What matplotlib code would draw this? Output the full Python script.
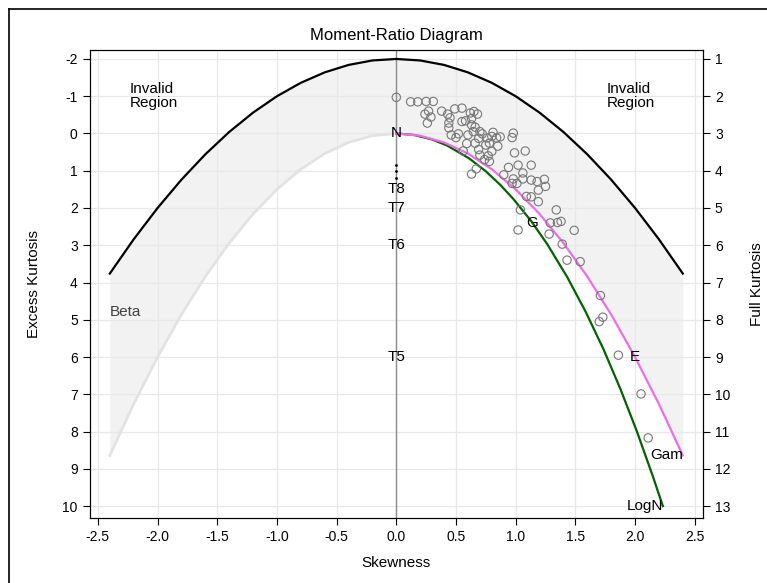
import matplotlib
matplotlib.use("Agg")
import matplotlib.pyplot as plt
from matplotlib.lines import Line2D

plt.rcParams["font.family"] = ["Liberation Sans", "DejaVu Sans"]
plt.rcParams["axes.unicode_minus"] = False

# boundary of feasible region (excess kurtosis = skew^2 - 2) and beta/gamma line
skew_grid = [-2.4, -2.2, -2.0, -1.8, -1.6, -1.4, -1.2, -1.0, -0.8, -0.6, -0.4, -0.2, 0.0,
             0.2, 0.4, 0.6, 0.8, 1.0, 1.2, 1.4, 1.6, 1.8, 2.0, 2.2, 2.4]
min_kurt = [3.76, 2.84, 2.0, 1.24, 0.56, -0.04, -0.56, -1.0, -1.36, -1.64, -1.84, -1.96, -2.0,
            -1.96, -1.84, -1.64, -1.36, -1.0, -0.56, -0.04, 0.56, 1.24, 2.0, 2.84, 3.76]
gamma_kurt = [8.64, 7.26, 6.0, 4.86, 3.84, 2.94, 2.16, 1.5, 0.96, 0.54, 0.24, 0.06, 0.0,
              0.06, 0.24, 0.54, 0.96, 1.5, 2.16, 2.94, 3.84, 4.86, 6.0, 7.26, 8.64]

# lognormal curve
logn_skew = [0.0, 0.150, 0.301, 0.427, 0.608, 0.750, 0.871, 0.980, 1.129, 1.264,
             1.431, 1.587, 1.736, 1.878, 2.016, 2.150, 2.216, 2.233]
logn_kurt = [0.0, 0.040, 0.162, 0.326, 0.664, 1.015, 1.379, 1.756, 2.347, 2.969,
             3.850, 4.790, 5.794, 6.863, 8.001, 9.210, 9.842, 10.0]

# t distributions on the skewness = 0 axis
t_labels = ["T5", "T6", "T7", "T8"]
t_kurt = [6.0, 3.0, 2.0, 1.5]
t_dots = [1.2, 1.0, 0.857]

# observed samples
obs_skew = [0.00, 0.12, 0.18, 0.25, 0.31, 0.27, 0.24, 0.29, 0.26, 0.38,
            0.43, 0.45, 0.44, 0.44, 0.49, 0.55, 0.55, 0.46, 0.50, 0.52,
            0.62, 0.65, 0.68, 0.63, 0.58, 0.63, 0.66, 0.645, 0.70, 0.72,
            0.69, 0.60, 0.66, 0.59, 0.56, 0.69, 0.70, 0.76, 0.80, 0.81,
            0.78, 0.84, 0.87, 0.85, 0.80, 0.77, 0.78, 0.74, 0.97, 0.98,
            0.99, 1.08, 0.67, 0.63, 0.94, 1.02, 1.13, 1.06, 0.98, 1.06,
            1.13, 1.18, 0.90, 0.97, 1.01, 1.25, 1.24, 1.19, 1.09, 1.13,
            1.19, 1.04, 1.02, 1.34, 1.29, 1.35, 1.38, 1.28, 1.39, 1.49,
            1.43, 1.54, 1.71, 1.73, 1.70, 1.86, 2.05, 2.11, 0.75]
obs_kurt = [-0.97, -0.85, -0.85, -0.86, -0.86, -0.60, -0.52, -0.44, -0.28, -0.60,
            -0.52, -0.42, -0.28, -0.15, -0.66, -0.68, -0.32, 0.04, 0.11, 0.01,
            -0.55, -0.59, -0.52, -0.40, -0.34, -0.23, -0.17, -0.05, -0.05, 0.01,
            0.13, 0.04, 0.26, 0.27, 0.47, 0.43, 0.58, 0.12, 0.08, -0.03,
            0.26, 0.12, 0.09, 0.34, 0.48, 0.60, 0.75, 0.70, 0.11, -0.01,
            0.52, 0.47, 0.95, 1.09, 0.91, 0.85, 0.85, 1.06, 1.22, 1.22,
            1.25, 1.29, 1.11, 1.34, 1.34, 1.42, 1.23, 1.52, 1.69, 1.70,
            1.83, 2.05, 2.59, 2.05, 2.40, 2.39, 2.36, 2.70, 2.97, 2.60,
            3.40, 3.44, 4.35, 4.93, 5.05, 5.95, 6.99, 8.17, 0.31]

x_ticks = [-2.5, -2.0, -1.5, -1.0, -0.5, 0.0, 0.5, 1.0, 1.5, 2.0, 2.5]
y_ticks = list(range(-2, 11))
full_ticks = list(range(1, 14))

fig = plt.figure(figsize=(7.67, 5.83), dpi=100)
ax = fig.add_axes([0.1167, 0.1115, 0.8, 0.8027])

ax.fill_between(skew_grid, min_kurt, gamma_kurt, color="#f2f2f2", lw=0, zorder=1)
ax.plot(skew_grid[:13], gamma_kurt[:13], color="#e3e3e3", lw=2, zorder=2)
ax.axvline(0, color="#8c8c8c", lw=1, zorder=2)
ax.plot(skew_grid, min_kurt, color="black", lw=1.6, zorder=3)
ax.plot(logn_skew, logn_kurt, color="#006400", lw=1.6, zorder=3)
ax.plot(skew_grid[12:], gamma_kurt[12:], color="#ee6ee6", lw=1.6, zorder=3)

ax.scatter(obs_skew, obs_kurt, s=36, facecolors="none", edgecolors="#777777",
           linewidths=0.8, zorder=4)
ax.scatter([0] * len(t_dots), t_dots, s=1.0, color="black", zorder=4)

for lab, k in zip(t_labels, t_kurt):
    ax.text(0, k, lab, ha="center", va="center", fontsize=11, zorder=5)
ax.text(0, 0.0, "N", ha="center", va="center", fontsize=11, zorder=5)
ax.text(1.14, 2.4, "G", ha="center", va="center", fontsize=11, zorder=5)
ax.text(2.0, 6.0, "E", ha="center", va="center", fontsize=11, zorder=5)
ax.text(2.4, 8.64, "Gam", ha="right", va="center", fontsize=11, zorder=5)
ax.text(2.233, 10.0, "LogN", ha="right", va="center", fontsize=11, zorder=5)
ax.text(-2.4, 4.8, "Beta", ha="left", va="center", fontsize=11, color="#404040", zorder=5)
ax.text(-2.23, -1.0, "Invalid\nRegion", ha="left", va="center", fontsize=11,
        linespacing=1.05, zorder=5)
ax.text(1.76, -1.0, "Invalid\nRegion", ha="left", va="center", fontsize=11,
        linespacing=1.05, zorder=5)

ax.set_xlim(-2.57, 2.57)
ax.set_ylim(10.32, -2.24)
ax.set_xticks(x_ticks)
ax.set_xticklabels([f"{v:.1f}" for v in x_ticks])
ax.set_yticks(y_ticks)
ax.grid(color="#e8e8e8", lw=0.9)
ax.tick_params(labelsize=10, length=5, direction="out")
ax.set_xlabel("Skewness", fontsize=11, labelpad=9)
ax.set_ylabel("Excess Kurtosis", fontsize=11, labelpad=15)
ax.set_title("Moment-Ratio Diagram", fontsize=12, pad=7)

ax2 = ax.twinx()
ax2.set_ylim(10.32 + 3, -2.24 + 3)
ax2.set_yticks(full_ticks)
ax2.tick_params(labelsize=10, length=5, direction="out")
ax2.set_ylabel("Full Kurtosis", fontsize=11, labelpad=14)

# outer frame (only top and left edges fall inside the picture)
fig.add_artist(Line2D([9 / 767, 9 / 767], [0, 1 - 9 / 583], transform=fig.transFigure,
                      color="black", lw=1.2))
fig.add_artist(Line2D([9 / 767, 1], [1 - 9 / 583, 1 - 9 / 583], transform=fig.transFigure,
                      color="black", lw=1.2))

fig.savefig("out.png", dpi=100)
